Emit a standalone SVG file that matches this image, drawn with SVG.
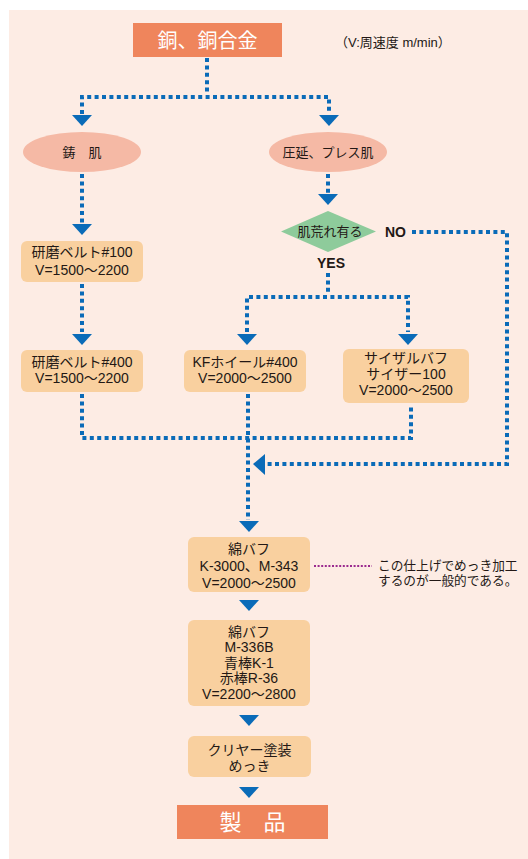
<svg xmlns="http://www.w3.org/2000/svg" width="528" height="859" viewBox="0 0 528 859">
  <defs>
    <style>
      .t { font-family: "Liberation Sans", "Noto Sans CJK JP", sans-serif; font-size: 14px; fill: #231815; text-anchor: middle; }
      .s { font-size: 13px; }
      .tw { font-family: "Noto Sans CJK JP", "Liberation Sans", sans-serif; fill: #ffffff; text-anchor: middle; }
      .lbl { font-family: "Liberation Sans", "Noto Sans CJK JP", sans-serif; font-size: 14px; font-weight: bold; fill: #231815; }
      .note { font-family: "Liberation Sans", "Noto Sans CJK JP", sans-serif; font-size: 12.7px; fill: #231815; }
      .box { fill: #f9d09f; }
      .term { fill: #ef855c; }
      .ell { fill: #f5b9a5; }
      .dec { fill: #8ecb9b; }
      .dot { fill: none; stroke: #0a6bb8; stroke-width: 4; stroke-dasharray: 4 3.4; }
      .pdot { fill: none; stroke: #9b2a8f; stroke-width: 2; stroke-dasharray: 2 1.6; }
      .arr { fill: #0a6bb8; }
    </style>
    <path id="down" d="M-10,0 H10 L0,11 Z"/>
  </defs>

  <!-- panel -->
  <rect x="9" y="10" width="519" height="849" fill="#fdece4"/>

  <!-- connectors -->
  <g id="connectors">
    <path class="dot" d="M207,58 V95"/>
    <path class="dot" d="M82,114 V97 H329 V114"/>
    <path class="dot" d="M82,174 V223"/>
    <path class="dot" d="M328,174 V193"/>
    <path class="dot" d="M82,284 V332"/>
    <path class="dot" d="M328,273 V295"/>
    <path class="dot" d="M247,332 V297 H408 V332"/>
    <path class="dot" d="M412,232 H507 V464 H267"/>
    <path class="dot" d="M82,394 V438 H411 V405"/>
    <path class="dot" d="M248,394 V520"/>
    <path class="pdot" d="M314,566 H372"/>
    <use href="#down" class="arr" x="82" y="115"/>
    <use href="#down" class="arr" x="329" y="115"/>
    <use href="#down" class="arr" x="82" y="224"/>
    <use href="#down" class="arr" x="328" y="194"/>
    <use href="#down" class="arr" x="82" y="334"/>
    <use href="#down" class="arr" x="247" y="334"/>
    <use href="#down" class="arr" x="408" y="334"/>
    <use href="#down" class="arr" x="249" y="521"/>
    <use href="#down" class="arr" x="249" y="600"/>
    <use href="#down" class="arr" x="249" y="715"/>
    <use href="#down" class="arr" x="249" y="787"/>
    <path class="arr" d="M253,464 L265,454 V475 Z"/>
  </g>

  <g id="start">
    <rect class="term" x="133" y="23" width="149" height="34"/>
    <text class="tw" x="207.5" y="48" font-size="20">銅、銅合金</text>
  </g>
  <text class="note" x="335" y="47" style="font-size:13px">（V:周速度  m/min）</text>

  <g id="cast">
    <ellipse class="ell" cx="82" cy="152" rx="59" ry="20"/>
    <text class="t s" x="82" y="157">鋳　肌</text>
  </g>
  <g id="rolled">
    <ellipse class="ell" cx="328" cy="152" rx="59" ry="20"/>
    <text class="t s" x="328" y="157">圧延、プレス肌</text>
  </g>

  <g id="rough">
    <polygon class="dec" points="328,211 376,231.5 328,252 281,231.5"/>
    <text class="t s" x="330" y="236">肌荒れ有る</text>
    <text class="lbl" x="385" y="237">NO</text>
    <text class="lbl" x="317" y="268">YES</text>
  </g>

  <g id="belt100">
    <rect class="box" x="21" y="241" width="122" height="41" rx="6"/>
    <text class="t" x="82" y="257">研磨ベルト#100</text>
    <text class="t" x="82" y="274.5">V=1500～2200</text>
  </g>

  <g id="belt400">
    <rect class="box" x="21" y="350" width="122" height="42" rx="6"/>
    <text class="t" x="82" y="366.5">研磨ベルト#400</text>
    <text class="t" x="82" y="383">V=1500～2200</text>
  </g>

  <g id="kfwheel">
    <rect class="box" x="184" y="350" width="122" height="42" rx="6"/>
    <text class="t" x="245" y="366.5">KFホイール#400</text>
    <text class="t" x="245" y="383">V=2000～2500</text>
  </g>

  <g id="sisal">
    <rect class="box" x="343" y="349" width="126" height="54" rx="6"/>
    <text class="t" x="406" y="363">サイザルバフ</text>
    <text class="t" x="406" y="379">サイザー100</text>
    <text class="t" x="406" y="395">V=2000～2500</text>
  </g>

  <g id="cotton1">
    <rect class="box" x="188" y="537" width="122" height="55" rx="6"/>
    <text class="t" x="249" y="554">綿バフ</text>
    <text class="t" x="249" y="571">K-3000、M-343</text>
    <text class="t" x="249" y="588">V=2000～2500</text>
  </g>
  <g id="note">
    <text class="note" x="378" y="570">この仕上げでめっき加工</text>
    <text class="note" x="378" y="585">するのが一般的である。</text>
  </g>

  <g id="cotton2">
    <rect class="box" x="188" y="620" width="122" height="86" rx="6"/>
    <text class="t" x="249" y="636.5">綿バフ</text>
    <text class="t" x="249" y="652.2">M-336B</text>
    <text class="t" x="249" y="667.8">青棒K-1</text>
    <text class="t" x="249" y="683.4">赤棒R-36</text>
    <text class="t" x="249" y="699">V=2200～2800</text>
  </g>

  <g id="coat">
    <rect class="box" x="188" y="736" width="123" height="41" rx="6"/>
    <text class="t" x="249.5" y="754.5">クリヤー塗装</text>
    <text class="t" x="249.5" y="770.5">めっき</text>
  </g>

  <g id="product">
    <rect class="term" x="177" y="805" width="151" height="34"/>
    <text class="tw" x="252.5" y="830" font-size="22">製　品</text>
  </g>
</svg>
